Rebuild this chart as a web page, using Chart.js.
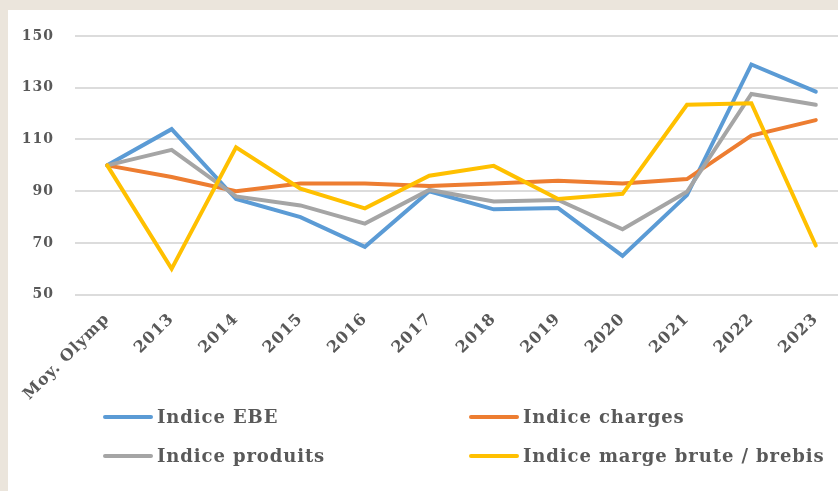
<!DOCTYPE html>
<html>
<head>
<meta charset="utf-8">
<script src="https://cdn.jsdelivr.net/npm/chart.js@4"></script>
<style>
html,body{margin:0;padding:0;background:#ebe5dc;overflow:hidden;width:838px;height:491px;}
#panel{position:absolute;left:8px;top:10px;width:830px;height:481px;background:#ffffff;overflow:hidden;}
#wrap{position:absolute;left:-8px;top:-10px;width:860px;height:491px;}
.leg{position:absolute;font-family:"DejaVu Serif",serif;font-weight:bold;font-size:18px;letter-spacing:0.9px;color:#595959;white-space:nowrap;line-height:20px;}
.leg span{display:inline-block;width:50px;height:4px;border-radius:2px;vertical-align:middle;margin-right:4px;position:relative;top:-1px;}
</style>
</head>
<body>
<div id="panel">
  <div id="wrap"><canvas id="c" width="860" height="491"></canvas></div>
  <div class="leg" style="left:95px;top:397px"><span style="background:#5b9bd5"></span>Indice EBE</div>
  <div class="leg" style="left:461px;top:397px"><span style="background:#ed7d31"></span>Indice charges</div>
  <div class="leg" style="left:95px;top:436px"><span style="background:#a5a5a5"></span>Indice produits</div>
  <div class="leg" style="left:461px;top:436px"><span style="background:#ffc000"></span>Indice marge brute / brebis</div>
</div>
<script>
const categories = ["Moy. Olymp","2013","2014","2015","2016","2017","2018","2019","2020","2021","2022","2023"];
const indiceEBE = [100,114,87,80,68.5,90,83,83.5,65,88.5,139,128.5];
const indiceCharges = [100,95.5,90,93,93,92,93,94,93,94.7,111.5,117.5];
const indiceProduits = [100,106,88,84.5,77.5,90.5,86,86.6,75.3,89.8,127.6,123.4];
const indiceMarge = [100,60,107,91,83.4,96,99.8,87,89,123.4,124,69];
const yTicks = [50,70,90,110,130,150];

const mk = (label, data, color, order) => ({
  label, data, borderColor: color, backgroundColor: color, borderWidth: 4,
  pointRadius: 0, tension: 0, fill: false, order,
  borderCapStyle: 'round', borderJoinStyle: 'miter'
});

const spacing = {
  id: 'spacing',
  beforeUpdate(c) { c.ctx.letterSpacing = '1px'; },
  beforeLayout(c) { c.ctx.letterSpacing = '1px'; },
  beforeDraw(c) { c.ctx.letterSpacing = '1px'; }
};

new Chart(document.getElementById('c'), {
  type: 'line',
  data: {
    labels: categories,
    datasets: [
      mk("Indice EBE", indiceEBE, "#5b9bd5", 4),
      mk("Indice charges", indiceCharges, "#ed7d31", 3),
      mk("Indice produits", indiceProduits, "#a5a5a5", 2),
      mk("Indice marge brute / brebis", indiceMarge, "#ffc000", 1)
    ]
  },
  plugins: [spacing],
  options: {
    responsive: false,
    animation: false,
    layout: {padding: {left: 0, right: 12, top: 36, bottom: 0}},
    plugins: {legend: {display: false}, tooltip: {enabled: false}},
    scales: {
      x: {
        offset: true,
        grid: {display: false, drawTicks: false},
        border: {display: false},
        ticks: {font: {family: "DejaVu Serif", weight: "bold", size: 16}, color: "#595959",
                maxRotation: 45, minRotation: 45, padding: 15, autoSkip: false},
        afterFit: s => { s.height = 491 - 294.7; }
      },
      y: {
        min: 50, max: 150,
        afterBuildTicks: s => { s.ticks = yTicks.map(v => ({value: v})); },
        grid: {color: "#dcdcdc", lineWidth: 2, drawTicks: false},
        border: {display: false},
        ticks: {font: {family: "DejaVu Serif", weight: "bold", size: 14}, color: "#595959", padding: 21},
        afterFit: s => { s.width = 75; }
      }
    }
  }
});
</script>
</body>
</html>
